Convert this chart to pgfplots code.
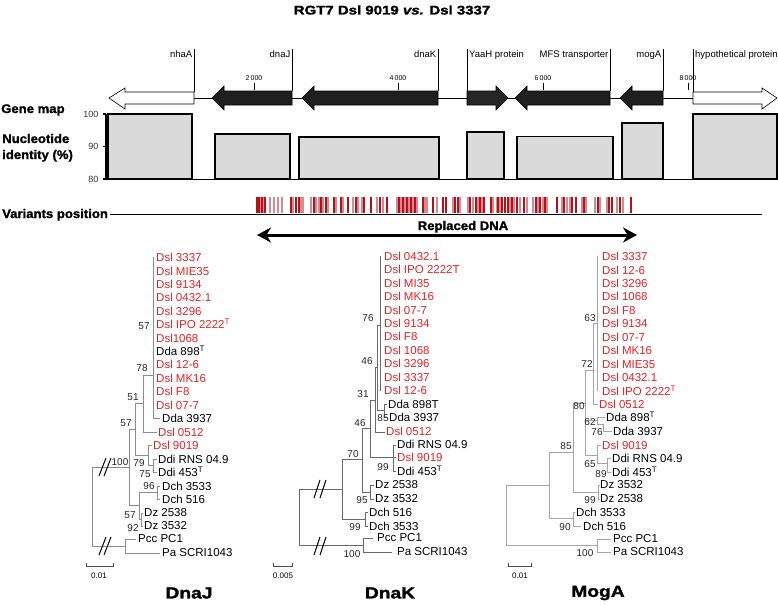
\documentclass[border=0pt]{standalone}
\usepackage{pgfplots}
\pgfplotsset{compat=1.18}
\usepackage{fontspec}
\setmainfont{Liberation Sans}
\newfontfamily\wideA{Liberation Sans}[FakeStretch=1.2, BoldFeatures={FakeBold=1.6}, BoldItalicFeatures={FakeBold=1.6}]
\newfontfamily\wideB{Liberation Sans}[FakeStretch=1.05, BoldFeatures={FakeBold=1.2}]
\usetikzlibrary{arrows.meta}
\definecolor{dslred}{RGB}{232,32,36}
\definecolor{vdark}{RGB}{185,15,25}
\definecolor{vlight}{RGB}{210,140,145}
\definecolor{tga}{RGB}{140,140,140}
\definecolor{tgb}{RGB}{105,105,105}
\definecolor{tgc}{RGB}{165,165,165}
\definecolor{barfill}{RGB}{218,218,218}
\begin{document}
\begin{tikzpicture}[
  leaf/.style={anchor=west, inner sep=0pt, font=\fontsize{11.5}{12}\selectfont},
  rleaf/.style={leaf, text=dslred},
  bs/.style={inner sep=0pt, font=\fontsize{10}{11}\selectfont, text=black!85},
  gl/.style={anchor=base east, inner sep=0pt, font=\fontsize{9.5}{10}\selectfont},
  glr/.style={anchor=base west, inner sep=0pt, font=\fontsize{9.5}{10}\selectfont},
  tk/.style={anchor=base, inner sep=0pt, font=\fontsize{7}{8}\selectfont}
]
\begin{axis}[
  at={(0pt,0pt)}, anchor=south west,
  width=778pt, height=605pt, scale only axis,
  xmin=0, xmax=778, ymin=0, ymax=605, y dir=reverse,
  hide axis, clip=false
]
% frame extent
\addplot[draw=none] coordinates {(0,0) (778,605)};
% title
\node[inner sep=0pt, font=\fontsize{12.5}{14}\selectfont\wideA\bfseries] at (axis cs:392,10) {RGT7 Dsl 9019 {\itshape vs.} Dsl 3337};
% ---------------- gene map ----------------
\addplot[black, line width=1pt] coordinates {(194,98) (693,98)};
\addplot[draw=black, fill=white, line width=0.6pt] coordinates {(194,92)(125,92)(125,88)(109,98)(125,109)(125,104)(194,104)} -- cycle;
\addplot[draw=black, fill=black!88, line width=0.6pt] coordinates {(292,91)(224,91)(224,86)(212,98)(224,110)(224,105)(292,105)} -- cycle;
\addplot[draw=black, fill=black!88, line width=0.6pt] coordinates {(438,91)(314,91)(314,86)(302,98)(314,110)(314,105)(438,105)} -- cycle;
\addplot[draw=black, fill=black!85, line width=0.6pt] coordinates {(467,91)(496,91)(496,86)(508,98)(496,110)(496,105)(467,105)} -- cycle;
\addplot[draw=black, fill=black!88, line width=0.6pt] coordinates {(610,91)(527,91)(527,86)(515,98)(527,110)(527,105)(610,105)} -- cycle;
\addplot[draw=black, fill=black!88, line width=0.6pt] coordinates {(663,91)(632,91)(632,86)(620,98)(632,110)(632,105)(663,105)} -- cycle;
\addplot[draw=black, fill=white, line width=0.6pt] coordinates {(693,92)(762,92)(762,88)(777,98)(762,109)(762,104)(693,104)} -- cycle;
% gene label lines
\addplot[black, line width=0.5pt] coordinates {(194,49) (194,92)};
\addplot[black, line width=0.5pt] coordinates {(292,49) (292,91)};
\addplot[black, line width=0.5pt] coordinates {(438,49) (438,91)};
\addplot[black, line width=0.5pt] coordinates {(467,49) (467,91)};
\addplot[black, line width=0.5pt] coordinates {(610,49) (610,91)};
\addplot[black, line width=0.5pt] coordinates {(663,49) (663,91)};
\addplot[black, line width=0.5pt] coordinates {(693,49) (693,92)};
\node[gl] at (axis cs:192.5,57) {nhaA};
\node[gl] at (axis cs:290.5,57) {dnaJ};
\node[gl] at (axis cs:436.5,57) {dnaK};
\node[glr] at (axis cs:469,57) {YaaH protein};
\node[gl] at (axis cs:608.5,57) {MFS transporter};
\node[gl] at (axis cs:661.5,57) {mogA};
\node[glr] at (axis cs:695,57) {hypothetical protein};
% scale ticks
\addplot[black, line width=0.5pt] coordinates {(254,83) (254,90)};
\addplot[black, line width=0.5pt] coordinates {(398,83) (398,90)};
\addplot[black, line width=0.5pt] coordinates {(543,83) (543,90)};
\addplot[black, line width=0.5pt] coordinates {(688,83) (688,90)};
\node[tk] at (axis cs:254,80) {2\,000};
\node[tk] at (axis cs:398,80) {4\,000};
\node[tk] at (axis cs:543,80) {6\,000};
\node[tk] at (axis cs:688,80) {8\,000};
% left labels
\node[anchor=base west, inner sep=0pt, font=\fontsize{12.5}{14}\selectfont\wideB\bfseries] at (axis cs:1,113) {Gene map};
\node[anchor=base west, inner sep=0pt, font=\fontsize{12.5}{14}\selectfont\wideB\bfseries] at (axis cs:2,143) {Nucleotide};
\node[anchor=base west, inner sep=0pt, font=\fontsize{12.5}{14}\selectfont\wideB\bfseries] at (axis cs:2,159) {identity (\%)};
\node[anchor=base west, inner sep=0pt, font=\fontsize{12.5}{14}\selectfont\wideB\bfseries] at (axis cs:2,218) {Variants position};
% ---------------- variants ----------------
\addplot[black, line width=0.8pt] coordinates {(110,214) (762,214)};
\addplot[only marks, mark=|, mark size=8pt, mark options={vlight, line width=1.2pt}] coordinates {
(260,205)(263,205)(270,205)(274,205)(278,205)(282,205)(293,205)(301,205)(303,205)(311,205)
(316,205)(319,205)(323,205)(328,205)(336,205)(343,205)(353,205)(358,205)(362,205)(377,205)
(383,205)(397,205)(401,205)(405,205)(409,205)(413,205)(417,205)(425,205)(427,205)(437,205)
(453,205)(460,205)(468,205)(473,205)(478,205)(482,205)(493,205)(497,205)(500,205)(510,205)
(514,205)(520,205)(527,205)(533,205)(538,205)(543,205)(547,205)(562,205)(567,205)(570,205)
(582,205)(586,205)(595,205)(600,205)(607,205)(617,205)(623,205)};
\addplot[only marks, mark=|, mark size=8pt, mark options={vdark, line width=1.3pt}] coordinates {
(257,205)(259,205)(262,205)(265,205)(291,205)(296,205)(299,205)(314,205)(321,205)(326,205)
(334,205)(341,205)(348,205)(356,205)(364,205)(371,205)(380,205)(387,205)(399,205)(403,205)
(407,205)(411,205)(415,205)(423,205)(433,205)(443,205)(446,205)(455,205)(458,205)(470,205)
(476,205)(480,205)(484,205)(491,205)(498,205)(502,205)(505,205)(508,205)(512,205)(517,205)
(524,205)(536,205)(540,205)(545,205)(557,205)(564,205)(572,205)(576,205)(584,205)(598,205)
(609,205)(612,205)(620,205)(631,205)};
% replaced DNA
\addplot[black, line width=3pt, {Stealth[length=14pt,width=15pt]}-{Stealth[length=14pt,width=15pt]}] coordinates {(257,235) (637,235)};
\node[anchor=base, inner sep=0pt, font=\fontsize{12.5}{14}\selectfont\wideB\bfseries] at (axis cs:463,230) {Replaced DNA};
% ---------------- tree 1 (DnaJ) ----------------
\addplot[tga, line width=0.8pt] coordinates {(153,257)(153,418)(160,418)};
\addplot[tga, line width=0.8pt] coordinates {(153,375)(143,375)(143,432)(157,432)};
\addplot[tga, line width=0.8pt] coordinates {(143,403)(135,403)(135,455)(148,455)};
\addplot[tga, line width=0.8pt] coordinates {(152,445)(148,445)(148,465)(153,465)};
\addplot[tga, line width=0.8pt] coordinates {(157,459)(153,459)(153,472)(157,472)};
\addplot[tga, line width=0.8pt] coordinates {(135,429)(129,429)(129,505)(139,505)};
\addplot[tga, line width=0.8pt] coordinates {(157,492)(139,492)(139,519)(141,519)};
\addplot[tga, line width=0.8pt] coordinates {(160,486)(157,486)(157,499)(160,499)};
\addplot[tga, line width=0.8pt] coordinates {(143,513)(141,513)(141,526)(143,526)};
\addplot[tga, line width=0.8pt] coordinates {(129,467)(92,467)(92,546)(125,546)};
\addplot[tga, line width=0.8pt] coordinates {(136,539)(125,539)(125,553)(160,553)};
\addplot[black, line width=1pt] coordinates {(99,476)(106,458)};
\addplot[black, line width=1pt] coordinates {(104,476)(111,458)};
\addplot[black, line width=1pt] coordinates {(99,555)(106,537)};
\addplot[black, line width=1pt] coordinates {(104,555)(111,537)};
\addplot[black!70, line width=0.6pt] coordinates {(86,563)(86,566)(113,566)(113,563)};
\node[inner sep=0pt, font=\fontsize{8}{9}\selectfont] at (axis cs:99,576) {0.01};
\node[rleaf] at (axis cs:156,257) {Dsl 3337};
\node[rleaf] at (axis cs:156,271) {Dsl MIE35};
\node[rleaf] at (axis cs:156,284) {Dsl 9134};
\node[rleaf] at (axis cs:156,297) {Dsl 0432.1};
\node[rleaf] at (axis cs:156,311) {Dsl 3296};
\node[rleaf] at (axis cs:156,324) {Dsl IPO 2222\textsuperscript{T}};
\node[rleaf] at (axis cs:156,338) {Dsl1068};
\node[leaf] at (axis cs:156,351) {Dda 898\textsuperscript{T}};
\node[rleaf] at (axis cs:156,364) {Dsl 12-6};
\node[rleaf] at (axis cs:156,378) {Dsl MK16};
\node[rleaf] at (axis cs:156,391) {Dsl F8};
\node[rleaf] at (axis cs:156,405) {Dsl 07-7};
\node[leaf] at (axis cs:162,418) {Dda 3937};
\node[rleaf] at (axis cs:158,432) {Dsl 0512};
\node[rleaf] at (axis cs:153,445) {Dsl 9019};
\node[leaf] at (axis cs:158,459) {Ddi RNS 04.9};
\node[leaf] at (axis cs:158,472) {Ddi 453\textsuperscript{T}};
\node[leaf] at (axis cs:162,486) {Dch 3533};
\node[leaf] at (axis cs:162,499) {Dch 516};
\node[leaf] at (axis cs:144,513) {Dz 2538};
\node[leaf] at (axis cs:144,526) {Dz 3532};
\node[leaf] at (axis cs:138,539) {Pcc PC1};
\node[leaf] at (axis cs:162,553) {Pa SCRI1043};
\node[bs] at (axis cs:144,326) {57};
\node[bs] at (axis cs:142,368) {78};
\node[bs] at (axis cs:133,397) {51};
\node[bs] at (axis cs:126,423) {57};
\node[bs] at (axis cs:120,462) {100};
\node[bs] at (axis cs:139,463) {79};
\node[bs] at (axis cs:145,474) {75};
\node[bs] at (axis cs:149,486) {96};
\node[bs] at (axis cs:130,515) {57};
\node[bs] at (axis cs:133,528) {92};
% ---------------- tree 2 (DnaK) ----------------
\addplot[tgb, line width=0.8pt] coordinates {(380,256)(380,391)};
\addplot[tgb, line width=0.8pt] coordinates {(380,325)(377,325)(377,410)(384,410)};
\addplot[tgb, line width=0.8pt] coordinates {(387,404)(384,404)(384,417)(387,417)};
\addplot[tgb, line width=0.8pt] coordinates {(377,367)(375,367)(375,432)(385,432)};
\addplot[tgb, line width=0.8pt] coordinates {(375,400)(370,400)(370,457)(393,457)};
\addplot[tgb, line width=0.8pt] coordinates {(396,445)(393,445)(393,471)(396,471)};
\addplot[tgb, line width=0.8pt] coordinates {(393,457)(396,457)};
\addplot[tgb, line width=0.8pt] coordinates {(370,428)(362,428)(362,492)(370,492)};
\addplot[tgb, line width=0.8pt] coordinates {(374,485)(370,485)(370,499)(374,499)};
\addplot[tgb, line width=0.8pt] coordinates {(362,459)(342,459)(342,519)(365,519)};
\addplot[tgb, line width=0.8pt] coordinates {(368,512)(365,512)(365,526)(368,526)};
\addplot[tgb, line width=0.8pt] coordinates {(342,489)(299,489)(299,545)(363,545)};
\addplot[tgb, line width=0.8pt] coordinates {(373,538)(363,538)(363,552)(392,552)};
\addplot[black, line width=1pt] coordinates {(314,498)(320,480)};
\addplot[black, line width=1pt] coordinates {(320,498)(326,480)};
\addplot[black, line width=1pt] coordinates {(314,555)(320,537)};
\addplot[black, line width=1pt] coordinates {(320,555)(326,537)};
\addplot[black!70, line width=0.6pt] coordinates {(273,563)(273,566)(292,566)(292,563)};
\node[inner sep=0pt, font=\fontsize{8}{9}\selectfont] at (axis cs:283,576) {0.005};
\node[rleaf] at (axis cs:384,256) {Dsl 0432.1};
\node[rleaf] at (axis cs:384,269) {Dsl IPO 2222T};
\node[rleaf] at (axis cs:384,283) {Dsl MI35};
\node[rleaf] at (axis cs:384,296) {Dsl MK16};
\node[rleaf] at (axis cs:384,310) {Dsl 07-7};
\node[rleaf] at (axis cs:384,323) {Dsl 9134};
\node[rleaf] at (axis cs:384,336) {Dsl F8};
\node[rleaf] at (axis cs:384,350) {Dsl 1068};
\node[rleaf] at (axis cs:384,363) {Dsl 3296};
\node[rleaf] at (axis cs:384,377) {Dsl 3337};
\node[rleaf] at (axis cs:384,390) {Dsl 12-6};
\node[leaf] at (axis cs:388,404) {Dda 898T};
\node[leaf] at (axis cs:389,417) {Dda 3937};
\node[rleaf] at (axis cs:386,431) {Dsl 0512};
\node[leaf] at (axis cs:397,444) {Ddi RNS 04.9};
\node[rleaf] at (axis cs:397,457) {Dsl 9019};
\node[leaf] at (axis cs:397,471) {Ddi 453\textsuperscript{T}};
\node[leaf] at (axis cs:375,485) {Dz 2538};
\node[leaf] at (axis cs:375,499) {Dz 3532};
\node[leaf] at (axis cs:369,512) {Dch 516};
\node[leaf] at (axis cs:369,526) {Dch 3533};
\node[leaf] at (axis cs:377,538) {Pcc PC1};
\node[leaf] at (axis cs:397,552) {Pa SCRI1043};
\node[bs] at (axis cs:368,318) {76};
\node[bs] at (axis cs:367,361) {46};
\node[bs] at (axis cs:363,394) {31};
\node[bs] at (axis cs:360,423) {46};
\node[bs] at (axis cs:383,418) {85};
\node[bs] at (axis cs:353,454) {70};
\node[bs] at (axis cs:383,467) {99};
\node[bs] at (axis cs:362,500) {95};
\node[bs] at (axis cs:355,527) {99};
\node[bs] at (axis cs:352,554) {100};
% ---------------- tree 3 (MogA) ----------------
\addplot[tgc, line width=0.8pt] coordinates {(597,256)(597,391)};
\addplot[tgc, line width=0.8pt] coordinates {(597,323)(593,323)(593,404)(598,404)};
\addplot[tgc, line width=0.8pt] coordinates {(593,370)(585,370)(585,455)(597,455)};
\addplot[tgc, line width=0.8pt] coordinates {(585,420)(597,420)};
\addplot[tgc, line width=0.8pt] coordinates {(605,417)(597,417)(597,424)(603,424)(603,431)(612,431)};
\addplot[tgc, line width=0.8pt] coordinates {(601,445)(597,445)(597,463)(607,463)};
\addplot[tgc, line width=0.8pt] coordinates {(611,458)(607,458)(607,472)(611,472)};
\addplot[tgc, line width=0.8pt] coordinates {(585,403)(573,403)(573,492)(598,492)};
\addplot[tgc, line width=0.8pt] coordinates {(600,485)(598,485)(598,499)(600,499)};
\addplot[tgc, line width=0.8pt] coordinates {(573,452)(549,452)(549,518)(573,518)};
\addplot[tgc, line width=0.8pt] coordinates {(575,512)(573,512)(573,526)(581,526)};
\addplot[tgc, line width=0.8pt] coordinates {(549,485)(506,485)(506,545)(597,545)};
\addplot[tgc, line width=0.8pt] coordinates {(611,539)(597,539)(597,552)(611,552)};
\addplot[black!70, line width=0.6pt] coordinates {(508,563)(508,566)(531,566)(531,563)};
\node[inner sep=0pt, font=\fontsize{8}{9}\selectfont] at (axis cs:520,576) {0.01};
\node[rleaf] at (axis cs:602,256) {Dsl 3337};
\node[rleaf] at (axis cs:602,270) {Dsl 12-6};
\node[rleaf] at (axis cs:602,283) {Dsl 3296};
\node[rleaf] at (axis cs:602,296) {Dsl 1068};
\node[rleaf] at (axis cs:602,310) {Dsl F8};
\node[rleaf] at (axis cs:602,323) {Dsl 9134};
\node[rleaf] at (axis cs:602,337) {Dsl 07-7};
\node[rleaf] at (axis cs:602,350) {Dsl MK16};
\node[rleaf] at (axis cs:602,364) {Dsl MIE35};
\node[rleaf] at (axis cs:602,377) {Dsl 0432.1};
\node[rleaf] at (axis cs:602,391) {Dsl IPO 2222\textsuperscript{T}};
\node[rleaf] at (axis cs:599,404) {Dsl 0512};
\node[leaf] at (axis cs:606,417) {Dda 898\textsuperscript{T}};
\node[leaf] at (axis cs:613,431) {Dda 3937};
\node[rleaf] at (axis cs:602,445) {Dsl 9019};
\node[leaf] at (axis cs:612,458) {Ddi RNS 04.9};
\node[leaf] at (axis cs:612,472) {Ddi 453\textsuperscript{T}};
\node[leaf] at (axis cs:600,485) {Dz 3532};
\node[leaf] at (axis cs:600,499) {Dz 2538};
\node[leaf] at (axis cs:576,512) {Dch 3533};
\node[leaf] at (axis cs:583,526) {Dch 516};
\node[leaf] at (axis cs:613,539) {Pcc PC1};
\node[leaf] at (axis cs:613,552) {Pa SCRI1043};
\node[bs] at (axis cs:590,318) {63};
\node[bs] at (axis cs:587,364) {72};
\node[bs] at (axis cs:579,406) {80};
\node[bs] at (axis cs:590,422) {62};
\node[bs] at (axis cs:597,432) {76};
\node[bs] at (axis cs:566,446) {85};
\node[bs] at (axis cs:590,464) {65};
\node[bs] at (axis cs:601,474) {89};
\node[bs] at (axis cs:590,500) {99};
\node[bs] at (axis cs:565,527) {90};
\node[bs] at (axis cs:585,553) {100};
% bottom labels
\node[inner sep=0pt, font=\fontsize{16}{18}\selectfont\wideA\bfseries] at (axis cs:189,593) {DnaJ};
\node[inner sep=0pt, font=\fontsize{16}{18}\selectfont\wideA\bfseries] at (axis cs:390,593) {DnaK};
\node[inner sep=0pt, font=\fontsize{16}{18}\selectfont\wideA\bfseries] at (axis cs:598,593) {MogA};
\end{axis}
% ---------------- nucleotide identity ----------------
\begin{axis}[
  at={(106pt,426pt)}, anchor=south west,
  width=671pt, height=65pt, scale only axis,
  xmin=106, xmax=777, ymin=80, ymax=100,
  axis x line=bottom, axis y line=left,
  x axis line style={-, line width=0.8pt},
  y axis line style={-, line width=2pt},
  xtick=\empty, ytick={80,90,100}, yticklabels={80,90,100},
  tick align=outside, major tick length=3pt,
  ytick style={line width=1.5pt, black},
  yticklabel style={font=\fontsize{9}{10}\selectfont, text=black!80, xshift=-1pt},
  clip=false
]
\addplot[draw=black, fill=barfill, line width=1.3pt] coordinates {(108,100)(192,100)} \closedcycle;
\addplot[draw=black, fill=barfill, line width=1.3pt] coordinates {(215,93.8)(290,93.8)} \closedcycle;
\addplot[draw=black, fill=barfill, line width=1.3pt] coordinates {(299,92.9)(439,92.9)} \closedcycle;
\addplot[draw=black, fill=barfill, line width=1.3pt] coordinates {(467,94.5)(504,94.5)} \closedcycle;
\addplot[draw=black, fill=barfill, line width=1.3pt] coordinates {(517,93.0)(613,93.0)} \closedcycle;
\addplot[draw=black, fill=barfill, line width=1.3pt] coordinates {(622,97.2)(663,97.2)} \closedcycle;
\addplot[draw=black, fill=barfill, line width=1.3pt] coordinates {(693,100)(777,100)} \closedcycle;
\end{axis}
\end{tikzpicture}
\end{document}
